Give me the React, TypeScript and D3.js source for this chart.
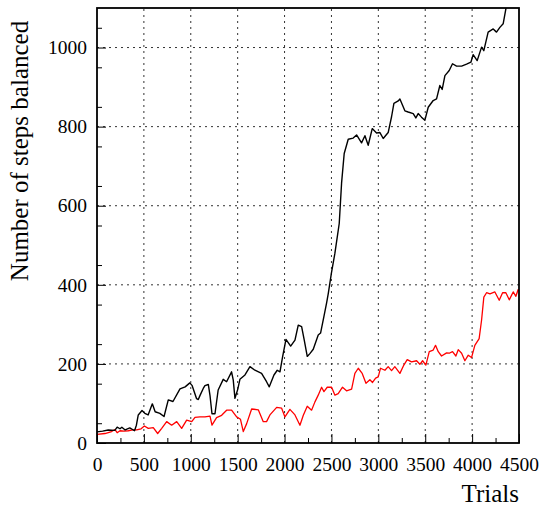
import React, { useEffect, useRef } from 'react';
import * as d3 from 'd3';

// black curve (trial, steps balanced)
const blackTrials = [
  0, 60, 120, 190, 215, 245, 265, 300, 350, 400, 420, 440, 480, 510, 545, 590, 620, 670, 715, 760,
  810, 885, 940, 990, 1015, 1062, 1080, 1100, 1133, 1151, 1187, 1205, 1226, 1258, 1292, 1346, 1382, 1435, 1453, 1471,
  1500, 1524, 1578, 1631, 1684, 1755, 1808, 1837, 1887, 1922, 1951, 1979, 2015, 2065, 2111, 2146, 2182, 2210, 2242, 2270,
  2306, 2359, 2384, 2420, 2449, 2466, 2500, 2537, 2583, 2608, 2636, 2679, 2732, 2768, 2821, 2857, 2892, 2935, 2981, 3017,
  3052, 3105, 3141, 3166, 3212, 3230, 3283, 3318, 3372, 3400, 3425, 3460, 3496, 3532, 3585, 3621, 3656, 3681, 3710, 3756,
  3791, 3834, 3888, 3941, 3987, 4011, 4054, 4101, 4125, 4171, 4225, 4260, 4296, 4331, 4360, 4380,
];
const blackSteps = [
  28, 30, 33, 32, 40, 36, 40, 33, 38, 31, 45, 71, 82, 75, 71, 99, 79, 75, 67, 109,
  105, 137, 142, 152, 145, 112, 110, 121, 138, 145, 148, 120, 74, 74, 134, 161, 155, 180, 159, 113,
  135, 161, 172, 193, 184, 176, 155, 142, 172, 184, 180, 218, 262, 245, 260, 298, 294, 260, 219, 226,
  237, 273, 278, 320, 355, 378, 430, 480, 555, 657, 732, 768, 771, 779, 759, 777, 753, 795, 784, 785,
  770, 785, 825, 859, 865, 870, 840, 837, 833, 822, 833, 824, 816, 849, 866, 870, 904, 894, 929, 942,
  959, 953, 953, 958, 963, 982, 967, 1001, 992, 1039, 1047, 1039, 1051, 1060, 1098, 1130,
];

// red curve (trial, steps balanced)
const redTrials = [
  0, 85, 156, 192, 215, 245, 290, 334, 380, 423, 470, 505, 547, 600, 647, 690, 743, 796, 850, 903,
  956, 1010, 1045, 1098, 1151, 1205, 1226, 1275, 1329, 1382, 1435, 1489, 1530, 1560, 1596, 1649, 1720, 1773, 1808, 1844,
  1916, 1969, 2004, 2057, 2111, 2164, 2200, 2242, 2288, 2324, 2359, 2395, 2420, 2455, 2502, 2537, 2572, 2618, 2661, 2715,
  2750, 2786, 2828, 2868, 2910, 2938, 2971, 2999, 3023, 3070, 3105, 3141, 3176, 3230, 3272, 3308, 3354, 3408, 3443, 3472,
  3507, 3543, 3585, 3610, 3639, 3674, 3728, 3756, 3791, 3827, 3852, 3888, 3923, 3959, 3994, 4029, 4075, 4101, 4125, 4154,
  4190, 4243, 4289, 4325, 4360, 4396, 4438, 4467, 4491, 4500,
];
const redSteps = [
  22, 24, 29, 34, 26, 31, 30, 31, 33, 33, 36, 43, 37, 39, 24, 37, 54, 45, 54, 37,
  58, 54, 65, 66, 66, 68, 45, 64, 70, 83, 83, 66, 60, 29, 49, 86, 84, 54, 54, 71,
  90, 88, 66, 85, 71, 45, 70, 93, 83, 104, 121, 141, 130, 141, 141, 121, 125, 141, 132, 136,
  176, 189, 176, 151, 160, 153, 164, 167, 189, 184, 193, 183, 193, 176, 197, 211, 205, 208, 199, 208,
  197, 231, 235, 247, 231, 220, 228, 227, 231, 220, 236, 227, 208, 222, 216, 247, 264, 311, 369, 380,
  377, 382, 361, 380, 380, 362, 382, 371, 388, 385,
];

const xMajor = [0, 500, 1000, 1500, 2000, 2500, 3000, 3500, 4000, 4500];
const yMajor = [0, 200, 400, 600, 800, 1000];

const App = () => {
  const svgRef = useRef(null);

  useEffect(() => {
    const svg = d3.select(svgRef.current);
    svg.selectAll('*').remove();

    const left = 97;
    const right = 519;
    const top = 8;
    const bottom = 443;
    const font = '"Liberation Serif", "Times New Roman", serif';

    const x = d3.scaleLinear().domain([0, 4500]).range([left, right]);
    const y = d3.scaleLinear().domain([0, 1100]).range([bottom, top]);

    svg
      .append('defs')
      .append('clipPath')
      .attr('id', 'plot-clip')
      .append('rect')
      .attr('x', left)
      .attr('y', top)
      .attr('width', right - left)
      .attr('height', bottom - top);

    // dotted grid
    const grid = svg.append('g').attr('stroke', '#333').attr('stroke-width', 1).attr('stroke-dasharray', '2,4');
    xMajor
      .filter((d) => d > 0 && d < 4500)
      .forEach((d) => {
        grid.append('line').attr('x1', x(d)).attr('x2', x(d)).attr('y1', bottom).attr('y2', top);
      });
    yMajor
      .filter((d) => d > 0)
      .forEach((d) => {
        grid.append('line').attr('x1', left).attr('x2', right).attr('y1', y(d)).attr('y2', y(d));
      });

    // minor ticks (inward)
    const minorX = d3.range(250, 4500, 500);
    const minorY = d3.range(50, 1100, 100);
    const xMinor = svg
      .append('g')
      .attr('transform', `translate(0,${bottom})`)
      .call(d3.axisBottom(x).tickValues(minorX).tickSize(-5).tickFormat(() => ''));
    const yMinor = svg
      .append('g')
      .attr('transform', `translate(${left},0)`)
      .call(d3.axisLeft(y).tickValues(minorY).tickSize(-5).tickFormat(() => ''));

    // major ticks with labels
    const xAxis = svg
      .append('g')
      .attr('transform', `translate(0,${bottom})`)
      .call(d3.axisBottom(x).tickValues(xMajor).tickSize(-9).tickPadding(14).tickFormat(d3.format('d')));
    const yAxis = svg
      .append('g')
      .attr('transform', `translate(${left},0)`)
      .call(d3.axisLeft(y).tickValues(yMajor).tickSize(-9).tickPadding(10).tickFormat(d3.format('d')));

    [xMinor, yMinor, xAxis, yAxis].forEach((a) => {
      a.select('.domain').remove();
      a.attr('font-family', null).attr('font-size', null);
      a.selectAll('line').attr('stroke', '#000').attr('stroke-width', 1);
      a.selectAll('text')
        .style('font-family', font)
        .style('font-size', '19.5px')
        .attr('fill', '#000');
    });

    const plot = svg.append('g').attr('clip-path', 'url(#plot-clip)');

    const line = d3
      .line()
      .x((d) => x(d[0]))
      .y((d) => y(d[1]));

    plot
      .append('path')
      .datum(redTrials.map((t, i) => [t, redSteps[i]]))
      .attr('fill', 'none')
      .attr('stroke', '#ff0000')
      .attr('stroke-width', 1.3)
      .attr('stroke-linejoin', 'round')
      .attr('d', line);

    plot
      .append('path')
      .datum(blackTrials.map((t, i) => [t, blackSteps[i]]))
      .attr('fill', 'none')
      .attr('stroke', '#000')
      .attr('stroke-width', 1.4)
      .attr('stroke-linejoin', 'round')
      .attr('d', line);

    // frame
    svg
      .append('rect')
      .attr('x', left)
      .attr('y', top)
      .attr('width', right - left)
      .attr('height', bottom - top)
      .attr('fill', 'none')
      .attr('stroke', '#000')
      .attr('stroke-width', 1.8);

    svg
      .append('text')
      .attr('x', 519)
      .attr('y', 502)
      .attr('text-anchor', 'end')
      .style('font-family', font)
      .style('font-size', '25px')
      .text('Trials');

    svg
      .append('text')
      .attr('transform', 'translate(28,151) rotate(-90)')
      .attr('text-anchor', 'middle')
      .style('font-family', font)
      .style('font-size', '25px')
      .text('Number of steps balanced');
  }, []);

  return (
    <svg
      ref={svgRef}
      width={542}
      height={506}
      style={{ position: 'absolute', left: 0, top: 0, background: '#fff' }}
    ></svg>
  );
};

export default App;
